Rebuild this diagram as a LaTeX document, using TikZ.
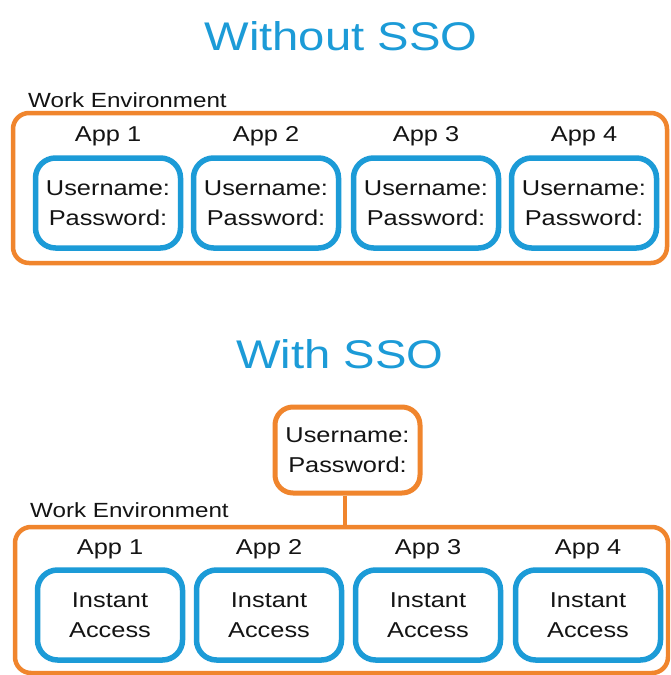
\documentclass[tikz,border=0pt]{standalone}
\usepackage{fontspec}
\setmainfont[FakeStretch=1.18]{Liberation Sans}
\definecolor{ssoblue}{HTML}{1C9BD7}
\definecolor{ssoorange}{HTML}{F0852D}
\definecolor{txt}{HTML}{141414}
\begin{document}
\begin{tikzpicture}[x=1pt,y=-1pt,
  envbox/.style={draw=ssoorange,line width=4.5pt,rounded corners=16pt},
  appbox/.style={draw=ssoblue,line width=5.5pt,rounded corners=20pt,minimum width=145pt,minimum height=90pt,inner sep=0pt,align=center,text=txt,font=\fontsize{21.5}{30}\selectfont},
  credbox/.style={draw=ssoorange,line width=5pt,rounded corners=18pt,minimum width=145pt,minimum height=86pt,inner sep=0pt,align=center,text=txt,font=\fontsize{21.5}{30}\selectfont},
  applabel/.style={text=txt,font=\fontsize{21.5}{25}\selectfont,inner sep=0pt},
  envlabel/.style={text=txt,font=\fontsize{20.5}{25}\selectfont,inner sep=0pt,anchor=west},
  title/.style={text=ssoblue,font=\fontsize{40}{46}\selectfont,inner sep=0pt}]
\useasboundingbox (0,0) rectangle (670,675);
\clip (0,0) rectangle (670,675);
\fill[white] (0,0) rectangle (670,675);
% ---------- Without SSO ----------
\node[title] (t1) at (341,36) {Without SSO};
\node[envlabel] (w1) at (28,100) {Work Environment};
\draw[envbox] (13,113) rectangle (667,263);
\foreach \i/\x in {1/108,2/266,3/426,4/584}{
  \node[applabel] (a\i) at (\x,136) {App \i};
  \node[appbox] (b\i) at (\x,203) {Username:\\Password:};
}
% ---------- With SSO ----------
\node[title] (t2) at (340,354) {With SSO};
\node[credbox] (cred) at (347.5,450) {Username:\\Password:};
\node[envlabel] (w2) at (30,510) {Work Environment};
\draw[envbox] (15,527) rectangle (668,673);
\coordinate (envtop) at (345,527);
\draw[ssoorange,line width=4.5pt] (cred.south -| envtop) -- (envtop);
\foreach \i/\x in {1/110,2/269,3/428,4/588}{
  \node[applabel] (c\i) at (\x,549) {App \i};
  \node[appbox] (d\i) at (\x,615) {Instant\\Access};
}
\end{tikzpicture}
\end{document}
